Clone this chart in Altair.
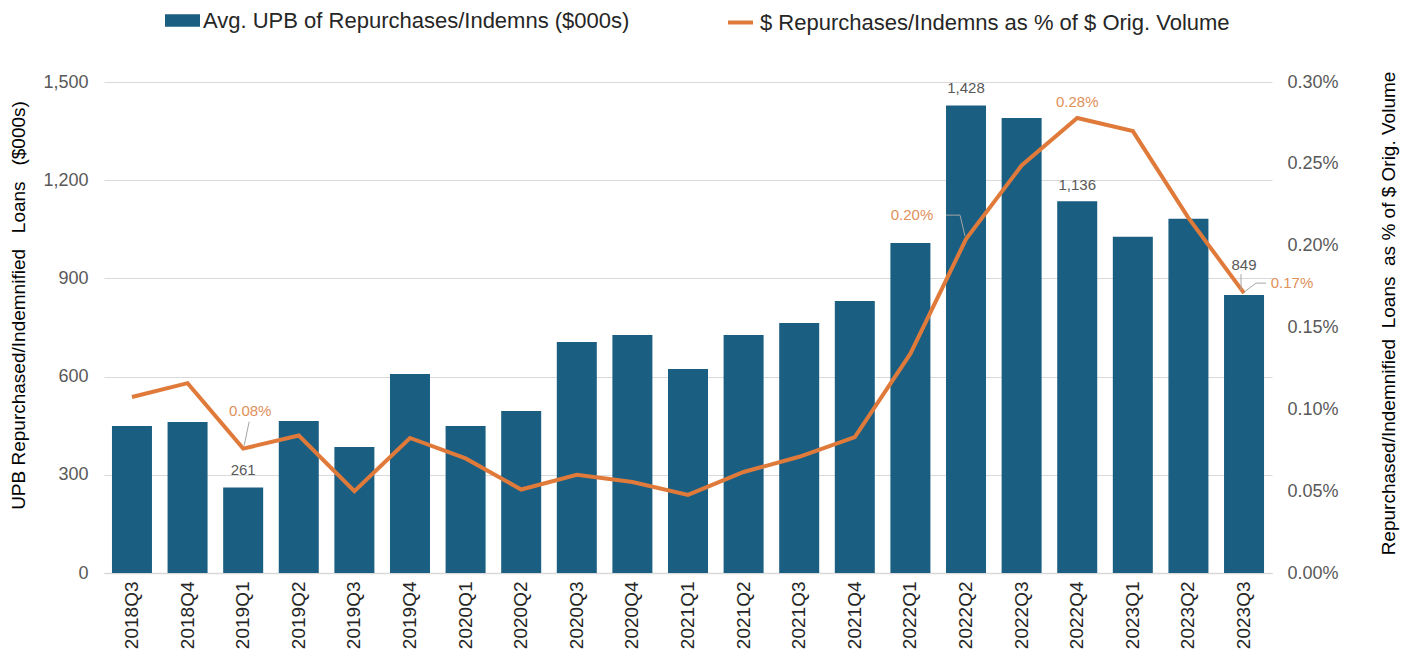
import altair as alt
import pandas as pd

quarters = ["2018Q3", "2018Q4", "2019Q1", "2019Q2", "2019Q3", "2019Q4",
            "2020Q1", "2020Q2", "2020Q3", "2020Q4", "2021Q1", "2021Q2",
            "2021Q3", "2021Q4", "2022Q1", "2022Q2", "2022Q3", "2022Q4",
            "2023Q1", "2023Q2", "2023Q3"]
avg_upb = [449, 461, 261, 464, 385, 608, 449, 495, 706, 727, 623, 727,
           764, 831, 1008, 1428, 1390, 1136, 1027, 1082, 849]
pct_volume = [0.1075, 0.116, 0.076, 0.084, 0.050, 0.0825, 0.070, 0.051,
              0.060, 0.0556, 0.0477, 0.0617, 0.071, 0.083, 0.134, 0.204,
              0.249, 0.278, 0.270, 0.217, 0.171]
left_ticks = [0, 300, 600, 900, 1200, 1500]
right_ticks = [0, 0.05, 0.10, 0.15, 0.20, 0.25, 0.30]

bar_name = "Avg. UPB of Repurchases/Indemns ($000s)"
line_name = "$ Repurchases/Indemns as % of $ Orig. Volume"
NB = "\u00a0"
left_title = f"UPB Repurchased/Indemnified{NB*3}Loans{NB*3}($000s)"
right_title = f"Repurchased/Indemnified{NB*2}Loans{NB*2}as % of $ Orig. Volume"

df = pd.DataFrame({"q": quarters, "upb": avg_upb, "pct": pct_volume})
df["bar_series"] = bar_name
df["line_series"] = line_name

BAR = "#1a5e82"
LINE = "#e07a3a"
LBL_GRAY = "#595959"
LBL_ORANGE = "#e0905a"
LEADER = "#a6a6a6"
FONT = "Liberation Sans"

x_axis = alt.Axis(title=None, labelAngle=-90, labelFontSize=19,
                  labelColor="#262626", labelPadding=8, ticks=False,
                  domainColor="#d9d9d9", domainWidth=1.5, labelFont=FONT)
x_scale = alt.Scale(paddingInner=0.28, paddingOuter=0.143)


def xenc():
    return alt.X("q:N", sort=quarters, scale=x_scale, axis=x_axis)


y_left = alt.Scale(domain=[0, 1500], nice=False)
y_right = alt.Scale(domain=[0, 0.30], nice=False)

left_axis = alt.Axis(title=left_title, values=left_ticks,
                     labelExpr="format(datum.value, ',.0f')",
                     grid=True, gridColor="#d9d9d9", domain=False, ticks=False,
                     labelPadding=16, labelFontSize=18, labelColor=LBL_GRAY,
                     labelFont=FONT, titleFont=FONT, titleFontSize=19,
                     titleFontWeight="normal", titleColor="#000000",
                     titleAngle=-90, titleX=-86, titleY=223,
                     titleAlign="center", titleBaseline="middle")

right_axis = alt.Axis(orient="right", title=right_title, values=right_ticks,
                      labelExpr="format(datum.value, '.2f') + '%'",
                      grid=False, domain=False, ticks=False,
                      labelPadding=15, labelFontSize=18, labelColor=LBL_GRAY,
                      labelFont=FONT, titleFont=FONT, titleFontSize=19,
                      titleFontWeight="normal", titleColor="#000000",
                      titleAngle=-90, titleX=116, titleY=231,
                      titleAlign="center", titleBaseline="middle")


def yl():
    return alt.Y("upb:Q", scale=y_left, axis=left_axis)


def yr():
    return alt.Y("pct:Q", scale=y_right, axis=right_axis)


bars = alt.Chart(df).mark_bar(size=40).encode(
    x=xenc(),
    y=yl(),
    color=alt.Color("bar_series:N",
                    scale=alt.Scale(domain=[bar_name], range=[BAR]),
                    legend=alt.Legend(title=None, orient="none", legendX=61, legendY=-79,
                                      symbolType="M-1,-0.36H1V0.36H-1Z", symbolSize=1225,
                                      symbolStrokeWidth=0, labelFontSize=22,
                                      labelFont=FONT, labelColor="#262626",
                                      labelOffset=3, labelLimit=800, padding=0)),
)


def bar_label(quarter, dy, dx=0):
    return alt.Chart(df).transform_filter(alt.datum.q == quarter).mark_text(
        dy=dy, dx=dx, fontSize=15, font=FONT, color=LBL_GRAY, baseline="middle"
    ).encode(x=xenc(), y=yl(), text=alt.Text("upb:Q", format=",.0f"))


bar_group = alt.layer(
    bars,
    bar_label("2019Q1", -18),
    bar_label("2022Q2", -18),
    bar_label("2022Q4", -16),
    bar_label("2023Q3", -30),
)

line = alt.Chart(df).mark_line(strokeWidth=4, strokeJoin="miter").encode(
    x=xenc(),
    y=yr(),
    stroke=alt.Stroke("line_series:N",
                      scale=alt.Scale(domain=[line_name], range=[LINE]),
                      legend=alt.Legend(title=None, orient="none", legendX=622, legendY=-74,
                                        symbolType="stroke", symbolSize=625,
                                        symbolStrokeWidth=4, labelFontSize=22,
                                        labelFont=FONT, labelColor="#262626",
                                        labelOffset=5, labelLimit=800, padding=0)),
)


def pct_label(quarter, dx, dy):
    return alt.Chart(df).transform_filter(alt.datum.q == quarter).transform_calculate(
        lbl="format(datum.pct, '.2f') + '%'"
    ).mark_text(dx=dx, dy=dy, fontSize=15, font=FONT, color=LBL_ORANGE,
                baseline="middle").encode(x=xenc(), y=yr(), text="lbl:N")


def leader(quarter, x0, y0, x1, y1):
    return alt.Chart(df).transform_filter(alt.datum.q == quarter).mark_rule(
        color=LEADER, strokeWidth=1, xOffset=x0, yOffset=y0, x2Offset=x1, y2Offset=y1
    ).encode(x=xenc(), x2="q", y=yr(), y2="pct")


line_group = alt.layer(
    line,
    pct_label("2019Q1", 7, -38),
    pct_label("2022Q2", -54, -24),
    pct_label("2022Q4", 0, -16),
    pct_label("2023Q3", 48, -10),
    leader("2019Q1", 6, -27, 1, -3),
    leader("2022Q2", -20, -24, -6, -24),
    leader("2022Q2", -6, -24, -1, -3),
    leader("2023Q3", -3, -19, -3, -3),
    leader("2023Q3", 0, -1, 12, -10),
    leader("2023Q3", 12, -10, 22, -10),
)

chart = alt.layer(bar_group, line_group).resolve_scale(
    y="independent", color="independent", stroke="independent"
).properties(
    width=1168, height=491,
    autosize=alt.AutoSizeParams(type="none"),
    padding={"left": 96, "top": 74, "right": 129, "bottom": 77},
).configure(font=FONT).configure_view(strokeWidth=0, stroke="transparent")

chart.save("out.html", embed_options={"renderer": "svg", "actions": False})
